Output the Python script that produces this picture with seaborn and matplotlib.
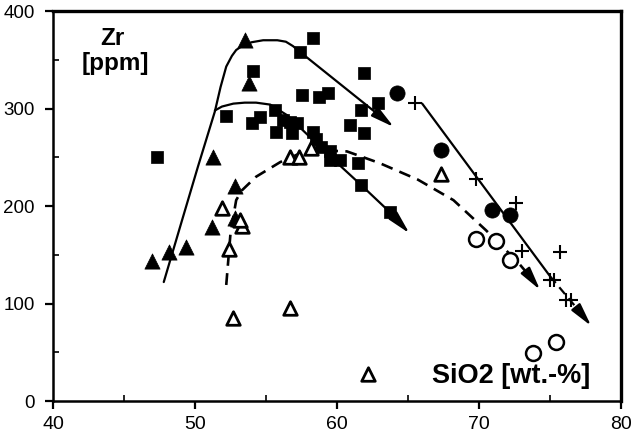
import matplotlib
matplotlib.use("Agg")
import matplotlib.pyplot as plt
import seaborn as sns
from matplotlib.ticker import MultipleLocator

# ---- data ----
sq_x = [47.3, 52.2, 54.1, 57.4, 58.3, 57.5, 58.7, 59.4, 61.9, 62.9, 61.7, 60.9, 61.9,
        54.0, 54.6, 55.6, 56.2, 56.7, 57.2, 55.7, 56.8, 58.3, 58.5, 58.9, 59.5, 59.5,
        60.2, 61.5, 61.7, 63.7]
sq_y = [250, 292, 338, 358, 372, 314, 312, 316, 336, 306, 298, 283, 274.5,
        285, 291.6, 298.5, 288, 286, 285, 276, 274.5, 276, 269, 261, 256, 247,
        247, 244, 221.5, 194]

tri_x = [53.5, 53.8, 51.3, 52.8, 51.2, 52.8, 49.4, 48.2, 47.0]
tri_y = [370, 326, 250, 221, 178, 188, 158, 153, 143.6]

otri_x = [51.9, 53.3, 52.4, 52.7, 56.7, 57.3, 58.2, 56.7, 62.2, 67.3, 53.2]
otri_y = [198, 179, 156, 85, 250.6, 250.6, 260, 95, 28, 233, 186]

circ_x = [64.2, 67.3, 70.9, 72.2]
circ_y = [316, 257, 196, 191]

ocirc_x = [69.8, 71.2, 72.2, 73.8, 75.4]
ocirc_y = [166, 164, 145, 49.5, 61]

plus_x = [65.5, 69.8, 72.6, 73.0, 75.7, 75.0, 75.3, 76.1, 76.5]
plus_y = [306, 228, 203, 154, 153, 124, 124, 104, 104]

# trend curves
c1_x = [47.8, 49.1, 50.2, 51.4, 51.8, 52.2, 52.6, 52.9, 53.4, 54.0, 54.8, 55.8, 56.4, 56.9, 57.4]
c1_y = [122, 186, 240, 297, 322, 343, 354, 360, 365, 368, 370, 370, 368.5, 364, 358]
c1_tip = (64.0, 281)

c2_x = [51.4, 51.9, 52.7, 53.5, 54.3, 55.3, 56.5, 58.0, 59.5, 61.7, 63.7]
c2_y = [298, 302, 305, 306, 306, 304, 293, 272, 251, 221.5, 194]
c2_tip = (65.1, 172)

c3_x = [52.2, 52.5, 52.9, 53.3, 54.3, 56.0, 57.4, 59.0, 60.7, 63.0, 65.7, 68.2, 70.5, 72.7, 73.6]
c3_y = [119, 172, 206, 216, 230, 245, 254, 257, 256, 244, 227, 206, 175, 143, 127.5]
c3_tip = (74.3, 114)

c4_x = [66.0, 75.0]
c4_y = [305, 128]
c4d_x = [75.0, 76.9]
c4d_y = [128, 95]
c4_tip = (77.9, 77)

x_ticks = [40, 50, 60, 70, 80]
y_ticks = [0, 100, 200, 300, 400]

# ---- plot ----
sns.set_style("ticks")
plt.rcParams['font.family'] = ['Liberation Sans', 'DejaVu Sans']
plt.rcParams['text.color'] = 'black'

fig = plt.figure(figsize=(6.4, 4.34), dpi=100)
ax = fig.add_axes([53/640, 1-401/434, 568/640, 390/434])

lw = 1.6
sns.lineplot(x=c1_x, y=c1_y, sort=False, estimator=None, color='black', lw=lw, ax=ax)
sns.lineplot(x=c2_x, y=c2_y, sort=False, estimator=None, color='black', lw=lw, ax=ax)
sns.lineplot(x=c3_x, y=c3_y, sort=False, estimator=None, color='black', lw=lw+0.3,
             linestyle=(0, (4.5, 2.8)), ax=ax)
sns.lineplot(x=c4_x, y=c4_y, sort=False, estimator=None, color='black', lw=lw, ax=ax)
sns.lineplot(x=c4d_x, y=c4d_y, sort=False, estimator=None, color='black', lw=lw,
             linestyle=(0, (4, 2.5)), ax=ax)

arrow = dict(arrowstyle='-|>,head_length=1.0,head_width=0.24', color='black', lw=lw,
             shrinkA=0, shrinkB=0, mutation_scale=14)
ax.annotate('', xy=c1_tip, xytext=(c1_x[-1], c1_y[-1]), arrowprops=arrow)
ax.annotate('', xy=c2_tip, xytext=(c2_x[-1], c2_y[-1]), arrowprops=arrow)
ax.annotate('', xy=c3_tip, xytext=(c3_x[-1], c3_y[-1]), arrowprops=arrow)
ax.annotate('', xy=c4_tip, xytext=(c4d_x[-1], c4d_y[-1]), arrowprops=arrow)

sns.scatterplot(x=sq_x, y=sq_y, marker='s', s=80, color='black', edgecolor='black',
                linewidth=0.5, ax=ax, zorder=3)
sns.scatterplot(x=tri_x, y=tri_y, marker='^', s=120, color='black', edgecolor='black',
                linewidth=0.5, ax=ax, zorder=3)
sns.scatterplot(x=otri_x, y=otri_y, marker='^', s=95, color='black', facecolor='white',
                edgecolor='black', linewidth=2.0, ax=ax, zorder=4)
sns.scatterplot(x=circ_x, y=circ_y, marker='o', s=120, color='black', edgecolor='black',
                linewidth=0.5, ax=ax, zorder=3)
sns.scatterplot(x=ocirc_x, y=ocirc_y, marker='o', s=115, color='black', facecolor='white',
                edgecolor='black', linewidth=1.8, ax=ax, zorder=4)
sns.scatterplot(x=plus_x, y=plus_y, marker='+', s=90, color='black', linewidth=1.5,
                ax=ax, zorder=4)

ax.set_xlim(40, 80)
ax.set_ylim(0, 400)
ax.set_xticks(x_ticks)
ax.set_yticks(y_ticks)
ax.xaxis.set_minor_locator(MultipleLocator(5))
ax.yaxis.set_minor_locator(MultipleLocator(50))
ax.tick_params(which='major', direction='out', length=6, width=1.6,
               colors='black')
ax.tick_params(axis='x', which='major', labelsize=14, pad=5)
ax.tick_params(axis='y', which='major', labelsize=13.5, pad=7)
ax.tick_params(which='minor', direction='in', length=4, width=1.4)
ax.set_xlabel('')
ax.set_ylabel('')
for side in ['left', 'bottom']:
    ax.spines[side].set_linewidth(1.8)
for side in ['top', 'right']:
    ax.spines[side].set_linewidth(2.4)
for s in ax.spines.values():
    s.set_color('black')

ax.text(44.2, 365, 'Zr', ha='center', va='baseline', fontsize=17.5, fontweight='bold',
        color='black')
ax.text(44.4, 339.5, '[ppm]', ha='center', va='baseline', fontsize=17.5, fontweight='bold',
        color='black')
ax.text(66.7, 18, 'SiO2 [wt.-%]', ha='left', va='baseline', fontsize=19.5, fontweight='bold',
        color='black')

fig.savefig('out.png', dpi=100)
